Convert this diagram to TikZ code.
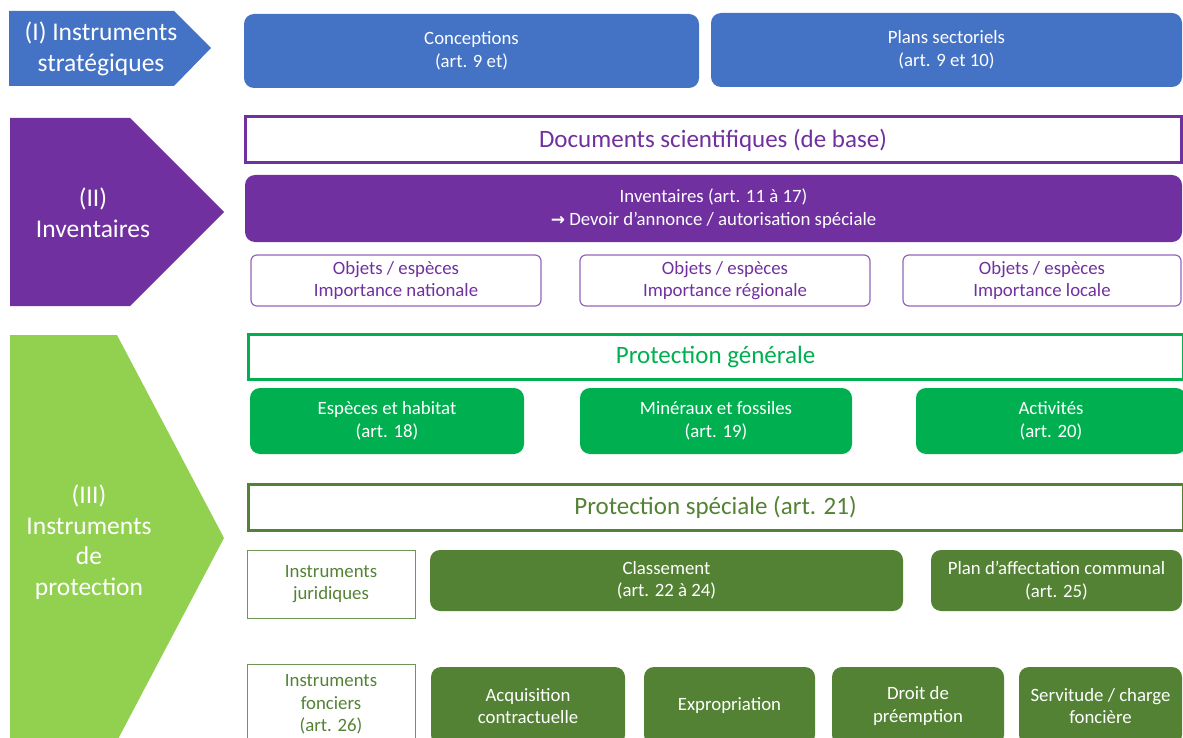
\documentclass[tikz,border=0pt]{standalone}
\usepackage{fontspec}
\setmainfont{Carlito}
\newfontfamily\arrowfont{DejaVu Sans}
\definecolor{stratblue}{HTML}{4472C4}
\definecolor{invpurple}{HTML}{7030A0}
\definecolor{protlight}{HTML}{92D050}
\definecolor{protgreen}{HTML}{00B050}
\definecolor{protdark}{HTML}{548235}

\begin{document}
\begin{tikzpicture}[x=1pt,y=-1pt,
	box/.style={rounded corners=10pt,inner sep=0pt,align=center,text=white,font=\fontsize{18.8}{22.5}\selectfont},
	obox/.style={rounded corners=6pt,inner sep=0pt,align=center,draw=invpurple!75,line width=1.2pt,text=invpurple,font=\fontsize{18.8}{22.5}\selectfont},
	sbox/.style={inner sep=0pt,align=center,draw=protdark!85,line width=1pt,text=protdark,font=\fontsize{18.8}{22.5}\selectfont},
	head/.style={inner sep=0pt,line width=3pt,fill=white,font=\fontsize{25}{28}\selectfont},
	lab/.style={align=center,text=white,font=\fontsize{25.5}{30.5}\selectfont}]
		\useasboundingbox (0,0) rectangle (1183,738);
		\clip (0,0) rectangle (1183,738);
		\fill[stratblue] (9,11) -- (174,11) -- (211,48) -- (174,86) -- (9,86) -- cycle;
		\fill[invpurple] (10,118) -- (130,118) -- (224,212) -- (130,306) -- (10,306) -- cycle;
		\fill[protlight] (10,335) -- (117,335) -- (224,538) -- (117,741) -- (10,741) -- cycle;
		\node[lab] (strat) at (101,49) {(I) Instruments\\stratégiques};
		\node[lab] (inv) at (93,213) {(II)\\Inventaires};
		\node[lab] (prot) at (89,542) {(III)\\Instruments\\de\\protection};
		\node[box,fill=stratblue,minimum width=455,minimum height=74] (concep) at (471.5,51) {Conceptions\\(art. 9 et)};
		\node[box,fill=stratblue,minimum width=471,minimum height=74] (plans) at (946.5,50) {Plans sectoriels\\(art. 9 et 10)};
		\node[head,draw=invpurple,text=invpurple,minimum width=936,minimum height=46] (docs) at (713,140) {Documents scientifiques (de base)};
		\node[box,fill=invpurple,minimum width=937,minimum height=67] (invent) at (713.5,208.5) {Inventaires (art. 11 à 17)\\{\arrowfont\bfseries\fontsize{17}{22}\selectfont →} Devoir d’annonce / autorisation spéciale};
		\node[obox,minimum width=290,minimum height=51] (onat) at (396,280.5) {Objets / espèces\\Importance nationale};
		\node[obox,minimum width=290,minimum height=51] (oreg) at (725,280.5) {Objets / espèces\\Importance régionale};
		\node[obox,minimum width=278,minimum height=51] (oloc) at (1042,280.5) {Objets / espèces\\Importance locale};
		\node[head,draw=protgreen,text=protgreen,minimum width=935,minimum height=45] (gen) at (715.5,356.5) {Protection générale};
		\node[box,fill=protgreen,minimum width=274,minimum height=66] (especes) at (387,421) {Espèces et habitat\\(art. 18)};
		\node[box,fill=protgreen,minimum width=272,minimum height=66] (mineraux) at (716,421) {Minéraux et fossiles\\(art. 19)};
		\node[box,fill=protgreen,minimum width=270,minimum height=66] (activ) at (1051,421) {Activités\\(art. 20)};
		\node[head,draw=protdark,text=protdark,minimum width=935,minimum height=46] (spec) at (715.5,507) {Protection spéciale (art. 21)};
		\node[sbox,minimum width=168,minimum height=68] (jur) at (331,584) {Instruments\\juridiques};
		\node[box,fill=protdark,minimum width=473,minimum height=61] (classe) at (666.5,580.5) {Classement\\(art. 22 à 24)};
		\node[box,fill=protdark,minimum width=251,minimum height=61] (pac) at (1056.5,580.5) {Plan d’affectation communal\\(art. 25)};
		\node[sbox,minimum width=168,minimum height=81] (fonc) at (331,704.5) {Instruments\\fonciers\\(art. 26)};
		\node[box,fill=protdark,minimum width=194,minimum height=78] (acq) at (528,706) {Acquisition\\contractuelle};
		\node[box,fill=protdark,minimum width=171,minimum height=78] (expro) at (729.5,706) {Expropriation};
		\node[box,fill=protdark,minimum width=172,minimum height=78] (droit) at (918,706) {Droit de\\préemption};
		\node[box,fill=protdark,minimum width=163,minimum height=78] (servi) at (1100.5,706) {Servitude / charge\\foncière};
\end{tikzpicture}
\end{document}
